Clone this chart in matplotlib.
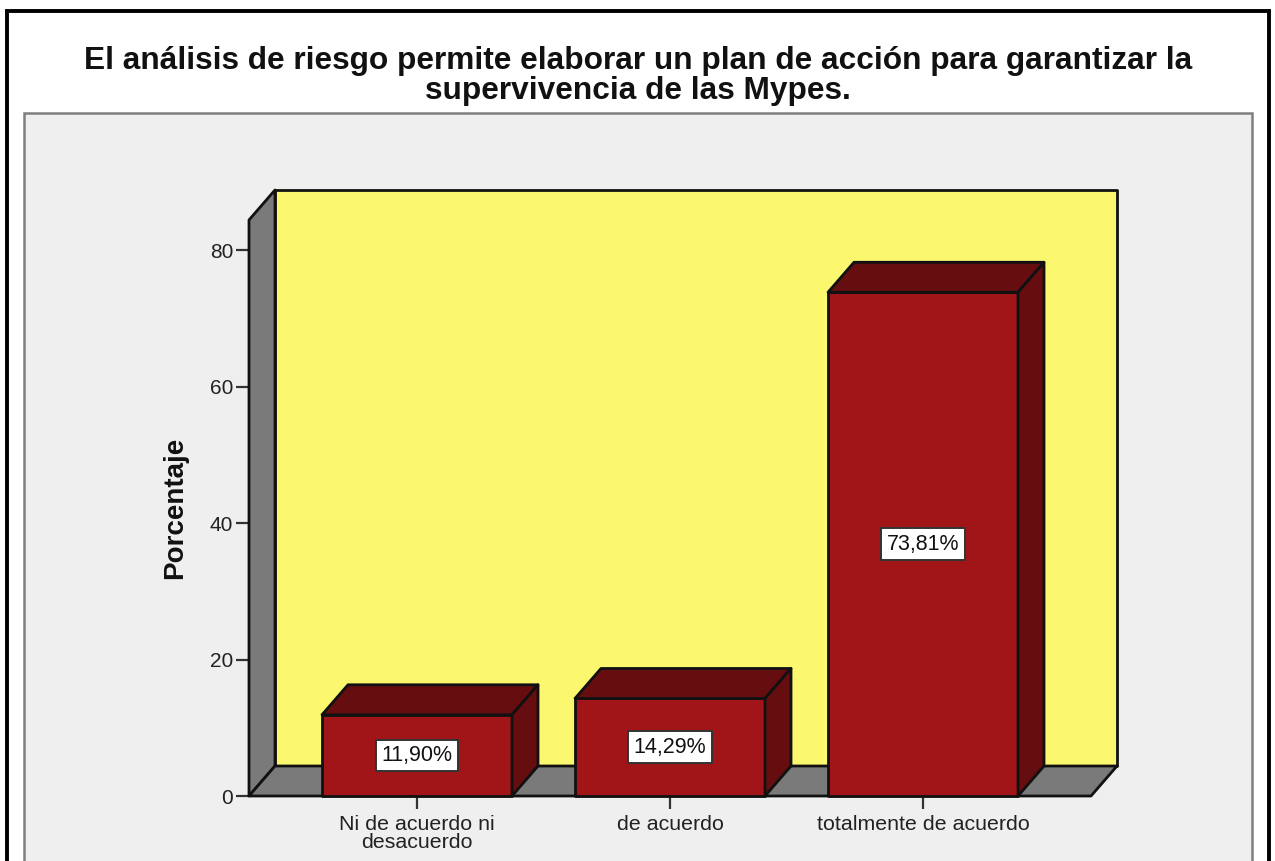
import matplotlib
matplotlib.use("Agg")
import matplotlib.pyplot as plt
from matplotlib.patches import Polygon, Rectangle

plt.rcParams['font.family'] = ['Liberation Sans', 'DejaVu Sans']

title = "El análisis de riesgo permite elaborar un plan de acción para garantizar la\nsupervivencia de las Mypes."
categories = ["Ni de acuerdo ni\ndesacuerdo", "de acuerdo", "totalmente de acuerdo"]
percents = [11.90, 14.29, 73.81]
labels = ["11,90%", "14,29%", "73,81%"]
y_ticks = [0, 20, 40, 60, 80]

W, H = 1275, 861
RED = "#a11518"
DARK = "#650d0f"
GRAY = "#7a7a7a"
YELLOW = "#fbf870"
PANEL = "#efefef"
EDGE = "#111111"

fig = plt.figure(figsize=(W / 100, H / 100), dpi=100, facecolor="white")

# background: black frame and grey panel, in pixels of the figure
bg = fig.add_axes([0, 0, 1, 1], zorder=0)
bg.set_xlim(0, W)
bg.set_ylim(H, 0)
bg.axis("off")
bg.add_patch(Rectangle((7, 10.5), 1261.5, 900, fc="white", ec="black", lw=2.8))
bg.add_patch(Rectangle((24, 112.5), 1228, 800, fc=PANEL, ec="#7f7f7f", lw=1.8))

ax = fig.add_axes([249 / W, (H - 796) / H, 842 / W, 576 / H], zorder=1)
ax.set_xlim(-0.664, 2.664)
ax.set_ylim(0, 84.4)
ax.patch.set_visible(False)
for s in ax.spines.values():
    s.set_visible(False)

dx = 26 / 253
dy = 30 / 6.825
x0, x1 = ax.get_xlim()
y1 = ax.get_ylim()[1]
bw = 190 / 253


def poly(pts, color, z):
    ax.add_patch(Polygon(pts, closed=True, fc=color, ec=EDGE, lw=2, joinstyle="round",
                         clip_on=False, zorder=z))


# back wall, left wall, floor
poly([(x0 + dx, dy), (x1 + dx, dy), (x1 + dx, y1 + dy), (x0 + dx, y1 + dy)], YELLOW, 1)
poly([(x0, 0), (x0 + dx, dy), (x0 + dx, y1 + dy), (x0, y1)], GRAY, 2)
poly([(x0, 0), (x1, 0), (x1 + dx, dy), (x0 + dx, dy)], GRAY, 2)

for i, v in enumerate(percents):
    l, r = i - bw / 2, i + bw / 2
    poly([(l, 0), (r, 0), (r, v), (l, v)], RED, 3)
    poly([(l, v), (r, v), (r + dx, v + dy), (l + dx, v + dy)], DARK, 3)
    poly([(r, 0), (r + dx, dy), (r + dx, v + dy), (r, v)], DARK, 3)
    ax.text(i, v / 2, labels[i], ha="center", va="center", fontsize=15.5, color="#111111", zorder=5,
            bbox=dict(boxstyle="square,pad=0.25", fc="white", ec="#333333", lw=1.4))

ax.set_xticks(range(len(categories)))
ax.set_xticklabels(categories, fontsize=15.4, color="#222222", linespacing=0.92)
ax.set_yticks(y_ticks)
ax.tick_params(axis="x", length=9.5, width=1.6, color="#333333", pad=4)
ax.tick_params(axis="y", length=9.5, width=1.6, color="#333333", pad=2, labelsize=15, labelcolor="#222222")
ax.set_ylabel("Porcentaje", fontsize=20, fontweight="bold", color="#111111")
ax.yaxis.set_label_coords(-61 / 842, 0.5)

fig.text(638 / W, 1 - 75.5 / H, title, ha="center", va="center", fontsize=22.8, fontweight="bold",
         color="#111111", linespacing=1.0)

fig.savefig("out.png", dpi=100)
